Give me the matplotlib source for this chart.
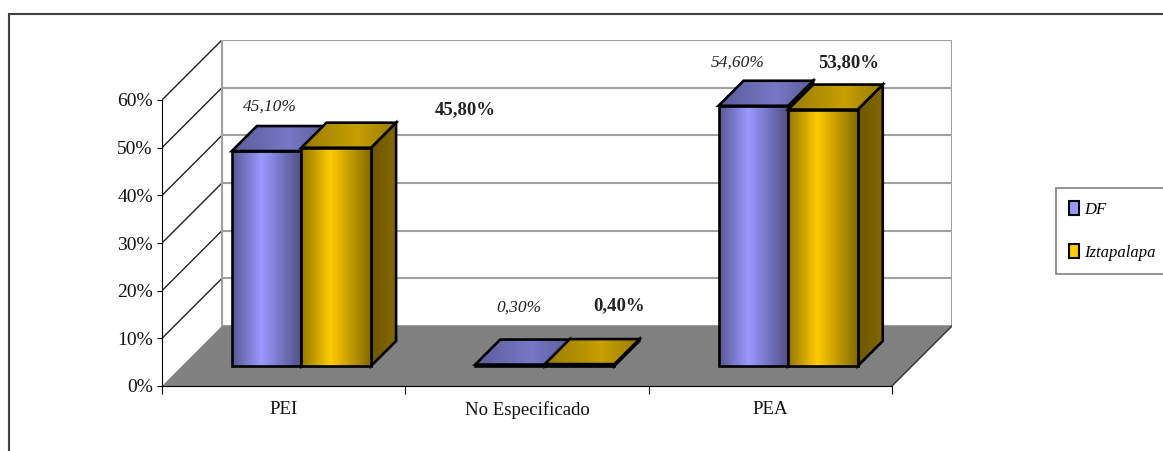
import matplotlib.pyplot as plt
import numpy as np
from matplotlib.patches import Polygon, Patch, Rectangle
from matplotlib.colors import to_rgb

# data
categories = ['PEI', 'No Especificado', 'PEA']
series = ['DF', 'Iztapalapa']
df_vals = [45.1, 0.3, 54.6]
izt_vals = [45.8, 0.4, 53.8]
df_labels = ['45,10%', '0,30%', '54,60%']
izt_labels = ['45,80%', '0,40%', '53,80%']
y_ticks = [0, 10, 20, 30, 40, 50, 60]

# styling
colors = ['#9999FF', '#FFCC00']
# where excel dropped the value labels (pixel offsets from bar top)
df_label_off = [(-22, 19), (-16, 32), (-41, 18)]
izt_label_off = [(104, 13), (14, 33), (1, 22)]

W, H = 1163, 451
plt.rcParams['font.family'] = ['Liberation Serif', 'DejaVu Serif']
fig = plt.figure(figsize=(W / 100, H / 100), dpi=100)

# geometry of the fake 3d box, in pixels
X0, Y0 = 162, 65
FRONT_W, FRONT_H = 730, 286
DEPTH = 60
XSC = FRONT_W / len(categories)
YSC = FRONT_H / y_ticks[-1]
DX, DY = DEPTH / XSC, DEPTH / YSC

ax = fig.add_axes([X0 / W, Y0 / H, (FRONT_W + DEPTH) / W, (FRONT_H + DEPTH) / H])
ax.patch.set_alpha(0)
ncat = len(categories)
ymax = y_ticks[-1]


def proj(x, y, f):
    return (x + f * DX, y + f * DY)


def grad(base, stops, factors, n=80):
    t = np.linspace(0, 1, n)
    k = np.interp(t, stops, factors)
    c = np.array(to_rgb(base))
    return np.clip(k[:, None] * c[None, :], 0, 1)[None, :, :]


def face(pts, base, stops, factors, z):
    pts = np.array(pts)
    poly = Polygon(pts, closed=True, facecolor='none', edgecolor='black',
                   lw=1.9, joinstyle='miter', zorder=z + 0.1)
    ax.add_patch(poly)
    im = ax.imshow(grad(base, stops, factors),
                   extent=[pts[:, 0].min(), pts[:, 0].max(), pts[:, 1].min(), pts[:, 1].max()],
                   aspect='auto', origin='lower', interpolation='bilinear', zorder=z)
    im.set_clip_path(poly)


def bar(x0, x1, v, base, z, f1=0.333, f2=0.75):
    face([proj(x1, 0, f1), proj(x1, 0, f2), proj(x1, v, f2), proj(x1, v, f1)],
         base, [0, 1], [0.42, 0.52], z)
    face([proj(x0, 0, f1), proj(x1, 0, f1), proj(x1, v, f1), proj(x0, v, f1)],
         base, [0, 0.42, 1], [0.58, 1.0, 0.52], z + 1)
    face([proj(x0, v, f1), proj(x1, v, f1), proj(x1, v, f2), proj(x0, v, f2)],
         base, [0, 0.6, 1], [0.6, 0.78, 0.6], z + 2)


# walls and floor
back = [proj(0, 0, 1), proj(ncat, 0, 1), proj(ncat, ymax, 1), proj(0, ymax, 1)]
ax.add_patch(Polygon(back, closed=True, fc='white', ec='#a0a0a0', lw=1.5, zorder=1))
for t in y_ticks:
    a, b = proj(0, t, 1), proj(ncat, t, 1)
    ax.plot([a[0], b[0]], [a[1], b[1]], color='#a0a0a0', lw=1.5, zorder=1.1)
    if t > 0:
        a = proj(0, t, 0)
        b = proj(0, t, 1)
        ax.plot([a[0], b[0]], [a[1], b[1]], color='#202020', lw=1, zorder=1.1)
a, b = proj(0, 0, 1), proj(0, ymax, 1)
ax.plot([a[0], b[0]], [a[1], b[1]], color='#a0a0a0', lw=1.5, zorder=1.1)

floor = [proj(0, 0, 0), proj(ncat, 0, 0), proj(ncat, 0, 1), proj(0, 0, 1)]
ax.add_patch(Polygon(floor, closed=True, fc='#808080', ec='none', zorder=1.5))
a, b = proj(ncat, 0, 0), proj(ncat, 0, 1)
ax.plot([a[0], b[0]], [a[1], b[1]], color='#303030', lw=1, zorder=1.6)

# bars
bw = 0.286
z = 3
for i in range(ncat):
    for j, vals in enumerate([df_vals, izt_vals]):
        x0 = i + 0.205 + j * bw
        bar(x0, x0 + bw, vals[i], colors[j], z)
        z += 3

# value labels
for i in range(ncat):
    for j, (labs, offs) in enumerate([(df_labels, df_label_off), (izt_labels, izt_label_off)]):
        v = [df_vals, izt_vals][j][i]
        xc = i + 0.205 + j * bw + bw / 2
        ax.annotate(labs[i], proj(xc, v, 0.75), xytext=offs[i], textcoords='offset pixels',
                    ha='center', va='center', fontsize=12.5 if j == 0 else 13.5,
                    color='#222222',
                    style='italic' if j == 0 else 'normal',
                    weight='normal' if j == 0 else 'bold', zorder=50)

ax.set_xlim(0, ncat + DX)
ax.set_ylim(0, ymax + DY)

# axes
for s in ['top', 'right']:
    ax.spines[s].set_visible(False)
ax.spines['left'].set_bounds(0, ymax)
ax.spines['bottom'].set_bounds(0, ncat)
ax.spines['left'].set_zorder(40)
ax.spines['bottom'].set_zorder(40)
ax.set_yticks(y_ticks)
ax.set_yticklabels([f'{t}%' for t in y_ticks], fontsize=14, color='#111111')
ax.tick_params(axis='y', length=3.6, pad=3)
ax.set_xticks(range(ncat + 1))
ax.set_xticklabels([])
ax.tick_params(axis='x', which='major', length=5.8)
ax.set_xticks([i + 0.5 for i in range(ncat)], minor=True)
ax.set_xticklabels(categories, minor=True, fontsize=13.5, color='#111111')
ax.tick_params(axis='x', which='minor', length=0, pad=11)

# outer frame, cut by the picture edge
fig.add_artist(Rectangle((9 / W, -0.1), 2, 1 - 14 / H + 0.1, transform=fig.transFigure,
                         fill=False, ec='#404040', lw=1.5))

handles = [Patch(fc=c, ec='black', lw=1.5) for c in colors]
leg = fig.legend(handles, series, loc='upper left', bbox_to_anchor=(1056 / W, 1 - 188 / H),
                 frameon=True, fancybox=False, edgecolor='#808080', framealpha=1,
                 prop=dict(family='Liberation Serif', style='italic', size=12),
                 handlelength=0.55, handleheight=0.85, handletextpad=0.35,
                 labelspacing=1.6, borderpad=0.8, borderaxespad=0)
leg.get_frame().set_linewidth(1.2)

fig.savefig('out.png', dpi=100)
